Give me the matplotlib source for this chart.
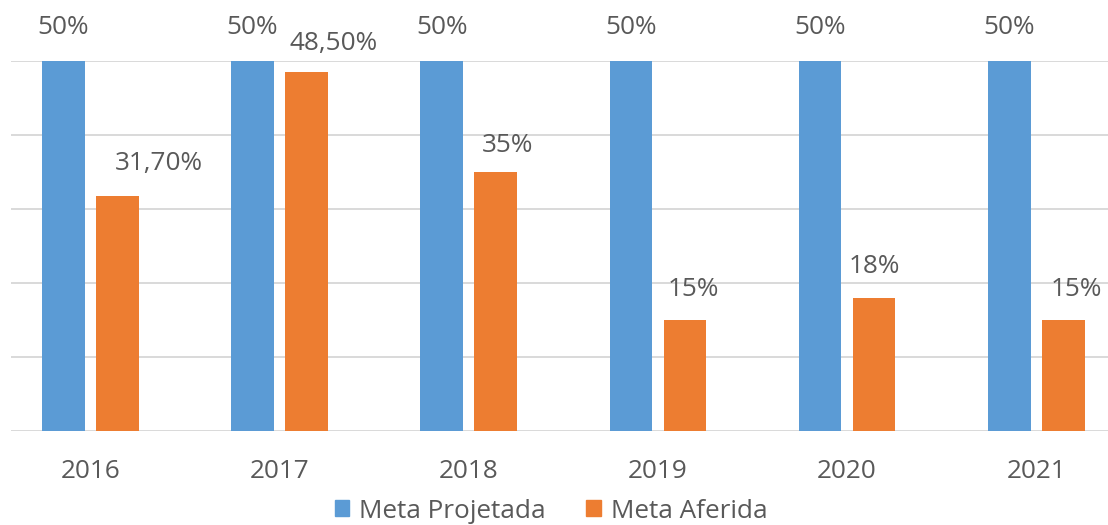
import numpy as np
import matplotlib
matplotlib.use('Agg')
from matplotlib import pyplot as plt
from matplotlib.patches import Patch

years = ['2016', '2017', '2018', '2019', '2020', '2021']
meta_projetada = [50, 50, 50, 50, 50, 50]
meta_aferida = [31.7, 48.5, 35, 15, 18, 15]
labels_projetada = ['50%', '50%', '50%', '50%', '50%', '50%']
labels_aferida = ['31,70%', '48,50%', '35%', '15%', '18%', '15%']

# label offsets in pixels (dx, dy) as placed in the original
off_proj = [(0, 33)] * 6
off_afer = [(42, 33), (27, 29), (12, 26), (8, 31), (0, 31), (13, 31)]

blue = '#5B9BD5'
orange = '#ED7D31'
txt = '#595959'
grid = '#D9D9D9'

plt.rcParams['font.family'] = ['Open Sans', 'DejaVu Sans']
fs = 18.8
px = 72.0 / 100  # pixels -> points

fig = plt.figure(figsize=(11.08, 5.25), dpi=100)
ax = fig.add_axes([11/1108, 1-431/525, (1108-11)/1108, 370/525])

x = np.arange(len(years))
w = 0.2246
off = 0.1427
ax.bar(x - off, meta_projetada, w, color=blue, zorder=3)
ax.bar(x + off, meta_aferida, w, color=orange, zorder=3)

ax.set_ylim(0, 50)
ax.set_xlim(-0.419, 5.379)
ax.set_yticks([0, 10, 20, 30, 40, 50])
ax.yaxis.grid(True, color=grid, linewidth=1.4, zorder=0)
ax.set_yticklabels([])
ax.tick_params(axis='y', length=0)
for s in ['top', 'right', 'left', 'bottom']:
    ax.spines[s].set_visible(False)

ax.set_xticks(x)
ax.set_xticklabels(years, fontsize=fs, color=txt)
ax.tick_params(axis='x', length=0, pad=20)

for i in range(len(years)):
    ax.annotate(labels_projetada[i], xy=(x[i] - off, meta_projetada[i]),
                xytext=(off_proj[i][0]*px, off_proj[i][1]*px), textcoords='offset points',
                ha='center', va='center', fontsize=fs, color=txt, annotation_clip=False)
    ax.annotate(labels_aferida[i], xy=(x[i] + off, meta_aferida[i]),
                xytext=(off_afer[i][0]*px, off_afer[i][1]*px), textcoords='offset points',
                ha='center', va='center', fontsize=fs, color=txt, annotation_clip=False)

handles = [Patch(color=blue, label='Meta Projetada'), Patch(color=orange, label='Meta Aferida')]
fig.legend(handles=handles, loc='center', bbox_to_anchor=(551/1108, 1-511/525), ncol=2,
           frameon=False, fontsize=fs, labelcolor=txt, handlelength=0.57, handleheight=0.57,
           handletextpad=0.38, columnspacing=1.53, borderpad=0, borderaxespad=0)

fig.savefig('out.png', dpi=100)
